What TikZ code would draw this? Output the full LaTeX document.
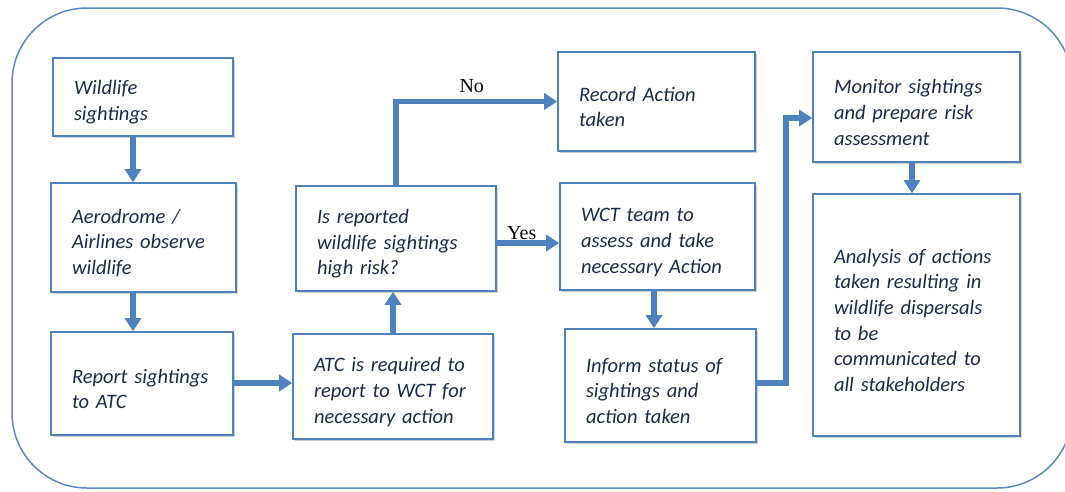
\documentclass[tikz,border=0pt]{standalone}
\usepackage{fontspec}
\setmainfont{Carlito}
\newfontfamily\labelfont{Liberation Serif}
\usepackage{tikz}
\usetikzlibrary{positioning,arrows.meta,shadows}
\definecolor{flowblue}{HTML}{4F81BD}
\definecolor{framblue}{HTML}{5B8AC6}
\definecolor{textnavy}{HTML}{1C2B4A}

\begin{document}
\begin{tikzpicture}[
  x=1pt,y=-1pt,
  font=\fontsize{20.5}{25.7}\selectfont\itshape,
  box/.style={rectangle,draw=flowblue,line width=1.6pt,fill=white,text=textnavy,
    align=left,inner xsep=21pt,inner ysep=4pt,
    execute at begin node={\rule{0pt}{25pt}},
    drop shadow={shadow xshift=2pt,shadow yshift=-2pt,opacity=0.18,fill=black}},
  arr/.style={-{Triangle[length=13pt,width=16pt]},line width=5.5pt,flowblue},
  decision/.style={font=\labelfont\fontsize{20}{22}\selectfont,text=black,inner sep=1pt},
]
\useasboundingbox (0,0) rectangle (1065,491);
% outer frame
\draw[framblue,line width=1.5pt,rounded corners=75pt] (12,8) rectangle (1072,488);

% Column 1: reporting
\node[box,text width=138pt,minimum height=78pt]  (sight)   at (143,97)    {Wildlife\\sightings};
\node[box,text width=143pt,minimum height=109pt] (observe) at (143.5,237.5) {Aerodrome /\\Airlines observe\\wildlife};
\node[box,text width=140pt,minimum height=103pt] (report)  at (142,383.5) {Report sightings\\to ATC};
% Column 2: ATC and decision
\node[box,text width=158pt,minimum height=105pt] (atc)     at (393,386.5) {ATC is required to\\report to WCT for\\necessary action};
\node[box,text width=158pt,minimum height=105pt] (risk)    at (396,238.5) {Is reported\\wildlife sightings\\high risk?};
% Column 3: outcomes
\node[box,text width=155pt,minimum height=99pt]  (record)  at (656.5,101.5) {Record Action\\taken};
\node[box,text width=153pt,minimum height=107pt] (wct)     at (657.5,236.5) {WCT team to\\assess and take\\necessary Action};
\node[box,text width=149pt,minimum height=113pt] (inform)  at (660.5,385.5) {Inform status of\\sightings and\\action taken};
% Column 4: follow up
\node[box,text width=165pt,minimum height=110pt] (monitor) at (916.5,107)  {Monitor sightings\\and prepare risk\\assessment};
\node[box,text width=165pt,minimum height=242pt] (analysis) at (916.5,315) {Analysis of actions\\taken resulting in\\wildlife dispersals\\to be\\communicated to\\all stakeholders};

% connectors
\draw[arr] (133,0 |- sight.south) -- (133,0 |- observe.north);
\draw[arr] (133,0 |- observe.south) -- (133,0 |- report.north);
\draw[arr] (0,383 -| report.east) -- (0,383 -| atc.west);
\draw[arr] (atc.north) -- (atc.north |- risk.south);
\draw[arr] (risk.north) |- node[decision,above=5pt,pos=0.735]{No} (record.west);
\draw[arr] (0,243 -| risk.east) -- node[decision,above,pos=0.4]{Yes} (0,243 -| wct.west);
\draw[arr] (654,0 |- wct.south) -- (654,0 |- inform.north);
\draw[arr] (0,383 -| inform.east) -| (786,118) -- (0,118 -| monitor.west);
\draw[arr] (912,0 |- monitor.south) -- (912,0 |- analysis.north);
\end{tikzpicture}
\end{document}
